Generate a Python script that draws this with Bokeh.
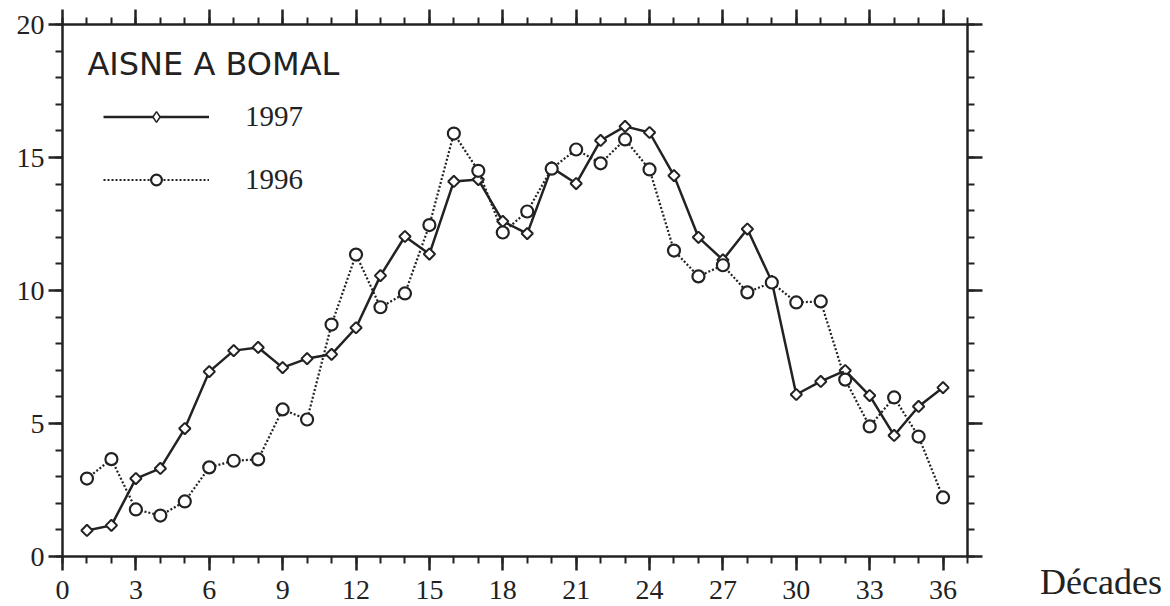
from bokeh.plotting import figure
from bokeh.layouts import row
from bokeh.models import (LinearAxis, SingleIntervalTicker, Range1d, Label, Legend,
                          LegendItem, CustomJSTickFormatter, Div)
from bokeh.embed import file_html
from bokeh.resources import INLINE

# ---- data ----
decades = list(range(1, 37))
q1997 = [0.98, 1.17, 2.93, 3.31, 4.81, 6.95, 7.74, 7.86, 7.10, 7.44, 7.60, 8.60,
         10.56, 12.03, 11.37, 14.10, 14.17, 12.60, 12.14, 14.62, 14.02, 15.64,
         16.17, 15.94, 14.32, 12.00, 11.15, 12.31, 10.34, 6.09, 6.58, 6.99,
         6.05, 4.55, 5.64, 6.35]
q1996 = [2.93, 3.66, 1.77, 1.54, 2.07, 3.35, 3.60, 3.65, 5.53, 5.15, 8.72, 11.35,
         9.37, 9.89, 12.46, 15.90, 14.50, 12.18, 12.97, 14.58, 15.30, 14.78,
         15.68, 14.55, 11.50, 10.53, 10.95, 9.93, 10.30, 9.55, 9.59, 6.65,
         4.89, 5.98, 4.51, 2.22]
series_labels = ["1997", "1996"]
station = "AISNE A BOMAL"
x_label = "Décades"

INK = "#222222"
SERIF = "Liberation Serif"
H = 606

p = figure(width=990, height=H, output_backend="svg", toolbar_location=None,
           title=None, x_range=Range1d(0, 37), y_range=Range1d(0, 20),
           x_axis_type=None, y_axis_type=None,
           min_border_left=62, min_border_top=24, min_border_right=23,
           min_border_bottom=50)
p.outline_line_color = None
p.background_fill_color = "white"
p.border_fill_color = "white"


def make_axis(kind, labels, out_major, out_minor, standoff=4):
    if kind == "x":
        ticker = SingleIntervalTicker(interval=3, num_minor_ticks=3)
    else:
        ticker = SingleIntervalTicker(interval=5, num_minor_ticks=5)
    ax = LinearAxis(ticker=ticker)
    ax.axis_line_width = 2.5
    ax.axis_line_color = INK
    ax.major_tick_line_width = 2.5
    ax.major_tick_line_color = INK
    ax.minor_tick_line_width = 2
    ax.minor_tick_line_color = INK
    ax.major_tick_out = out_major
    ax.major_tick_in = 0
    ax.minor_tick_out = out_minor
    ax.minor_tick_in = 0
    ax.major_label_text_font = SERIF
    ax.major_label_text_font_size = "28px"
    ax.major_label_text_color = INK
    ax.major_label_standoff = standoff
    if not labels:
        ax.formatter = CustomJSTickFormatter(code="return ''")
        ax.major_label_text_font_size = "0px"
        ax.major_label_standoff = 0
    return ax


p.add_layout(make_axis("x", True, 14, 7, standoff=10), "below")
p.add_layout(make_axis("x", False, 15, 7), "above")
p.add_layout(make_axis("y", True, 14, 7), "left")
p.add_layout(make_axis("y", False, 15, 7), "right")

l97 = p.line(decades, q1997, line_width=2.5, line_color=INK)
# diamond renderer (used for the legend sample), covered by the rotated squares
d97 = p.scatter(decades, q1997, marker="diamond", size=9, fill_color="white",
                line_color=INK, line_width=1.5)
m97 = p.scatter(decades, q1997, marker="square", size=8, angle=45, angle_units="deg",
                fill_color="white", line_color=INK, line_width=2)
l96 = p.line(decades, q1996, line_width=2.2, line_color=INK, line_dash="2 2")
m96 = p.scatter(decades, q1996, marker="circle", size=12, fill_color="white",
                line_color=INK, line_width=2.2)

legend = Legend(items=[LegendItem(label=series_labels[0], renderers=[l97, d97]),
                       LegendItem(label=series_labels[1], renderers=[l96, m96])],
                location=(41, 360), glyph_width=106, glyph_height=27,
                label_height=27, spacing=30, padding=0, margin=0,
                label_standoff=36, label_text_font=SERIF,
                label_text_font_size="29px", label_text_color=INK,
                border_line_color=None, background_fill_alpha=0)
p.add_layout(legend)

p.add_layout(Label(x=1.02, y=18.52, text=station, text_font="DejaVu Sans",
                   text_font_size="32px", text_color=INK,
                   text_baseline="middle"))

# x-axis caption, to the right of the frame
caption = Div(text=('<div style="margin:0; padding-top:564px; padding-left:50px; '
                    "font-family:'Liberation Serif'; font-size:36px; line-height:36px; "
                    'color:#222222; white-space:nowrap;">' + x_label + '</div>'),
              width=178, height=H, margin=0)

open("out.html", "w").write(file_html(row(p, caption), INLINE))
